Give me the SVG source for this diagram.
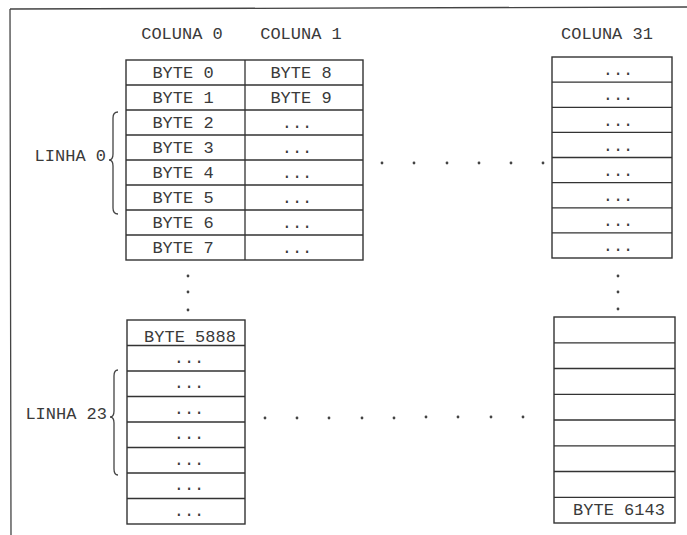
<svg xmlns="http://www.w3.org/2000/svg" width="687" height="535" viewBox="0 0 687 535">
<style>
.t{font-family:"Liberation Mono","Courier New",monospace;font-size:17px;fill:#3a3a3a;text-anchor:middle}
.te{font-family:"Liberation Mono","Courier New",monospace;font-size:17px;fill:#3a3a3a;text-anchor:end}
.g{fill:none;stroke:#333;stroke-width:1.4}
.l{stroke:#333;stroke-width:1.3}
.b{fill:none;stroke:#444;stroke-width:1.3}
.d{fill:#444}
</style>
<rect width="687" height="535" fill="#fff"/>
<g id="frame">
<path class="b" d="M10,9 L687,7 M10,9 L11,535"/>
</g>
<g id="headers">
<text class="t" x="182" y="39">COLUNA 0</text>
<text class="t" x="301" y="39">COLUNA 1</text>
<text class="t" x="607" y="39">COLUNA 31</text>
</g>
<g id="grid-top-left">
<rect class="g" x="126" y="60" width="237" height="200"/>
<path class="l" d="M245,60V260 M126,85H363 M126,110H363 M126,135H363 M126,160H363 M126,185H363 M126,210H363 M126,235H363"/>
<text class="t" x="183" y="77.5">BYTE 0</text>
<text class="t" x="183" y="102.5">BYTE 1</text>
<text class="t" x="183" y="127.5">BYTE 2</text>
<text class="t" x="183" y="152.5">BYTE 3</text>
<text class="t" x="183" y="177.5">BYTE 4</text>
<text class="t" x="183" y="202.5">BYTE 5</text>
<text class="t" x="183" y="227.5">BYTE 6</text>
<text class="t" x="183" y="252.5">BYTE 7</text>
<text class="t" x="301" y="77.5">BYTE 8</text>
<text class="t" x="301" y="102.5">BYTE 9</text>
<text class="t" x="297" y="128">...</text>
<text class="t" x="297" y="153">...</text>
<text class="t" x="297" y="178">...</text>
<text class="t" x="297" y="203">...</text>
<text class="t" x="297" y="228">...</text>
<text class="t" x="297" y="253">...</text>
</g>
<g id="grid-top-right">
<rect class="g" x="552" y="57" width="120" height="201"/>
<path class="l" d="M552,82.1H672 M552,107.3H672 M552,132.4H672 M552,157.5H672 M552,182.6H672 M552,207.8H672 M552,232.9H672"/>
<text class="t" x="618" y="75">...</text>
<text class="t" x="618" y="100">...</text>
<text class="t" x="618" y="126">...</text>
<text class="t" x="618" y="151">...</text>
<text class="t" x="618" y="176">...</text>
<text class="t" x="618" y="201">...</text>
<text class="t" x="618" y="226">...</text>
<text class="t" x="618" y="251">...</text>
</g>
<g id="grid-bottom-left">
<rect class="g" x="127" y="320" width="118" height="204"/>
<path class="l" d="M127,345.5H245 M127,371H245 M127,396.5H245 M127,422H245 M127,447.5H245 M127,473H245 M127,498.5H245"/>
<text class="t" x="190" y="342">BYTE 5888</text>
<text class="t" x="189" y="362.5">...</text>
<text class="t" x="189" y="388">...</text>
<text class="t" x="189" y="413.5">...</text>
<text class="t" x="189" y="439">...</text>
<text class="t" x="189" y="464.5">...</text>
<text class="t" x="189" y="490">...</text>
<text class="t" x="189" y="515.5">...</text>
</g>
<g id="grid-bottom-right">
<rect class="g" x="554" y="317" width="121" height="206"/>
<path class="l" d="M554,342.8H675 M554,368.5H675 M554,394.3H675 M554,420H675 M554,445.8H675 M554,471.5H675 M554,497.3H675"/>
<text class="t" x="619" y="515">BYTE 6143</text>
</g>
<g id="linha-0">
<path class="b" d="M118,112 Q113,112 113,118 L113,154 Q113,160 109,160 Q113,160 113,166 L113,208 Q113,214 118,214"/>
<text class="te" x="106" y="161">LINHA 0</text>
</g>
<g id="linha-23">
<path class="b" d="M118,370 Q114,370 114,376 L114,411 Q114,417 110,417 Q114,417 114,423 L114,469 Q114,475 118,475"/>
<text class="te" x="107" y="419">LINHA 23</text>
</g>
<g id="ellipses">
<circle class="d" cx="382" cy="163" r="1.4"/>
<circle class="d" cx="414" cy="163" r="1.4"/>
<circle class="d" cx="447" cy="163" r="1.4"/>
<circle class="d" cx="479" cy="163" r="1.4"/>
<circle class="d" cx="511" cy="163" r="1.4"/>
<circle class="d" cx="543" cy="163" r="1.4"/>
<circle class="d" cx="188" cy="276" r="1.4"/>
<circle class="d" cx="188" cy="292" r="1.4"/>
<circle class="d" cx="188" cy="310" r="1.4"/>
<circle class="d" cx="618" cy="276" r="1.4"/>
<circle class="d" cx="618" cy="292" r="1.4"/>
<circle class="d" cx="618" cy="309" r="1.4"/>
<circle class="d" cx="265" cy="418" r="1.4"/>
<circle class="d" cx="297" cy="418" r="1.4"/>
<circle class="d" cx="329" cy="418" r="1.4"/>
<circle class="d" cx="362" cy="418" r="1.4"/>
<circle class="d" cx="394" cy="418" r="1.4"/>
<circle class="d" cx="426" cy="417" r="1.4"/>
<circle class="d" cx="458" cy="417" r="1.4"/>
<circle class="d" cx="491" cy="417" r="1.4"/>
<circle class="d" cx="523" cy="417" r="1.4"/>
</g>
</svg>
